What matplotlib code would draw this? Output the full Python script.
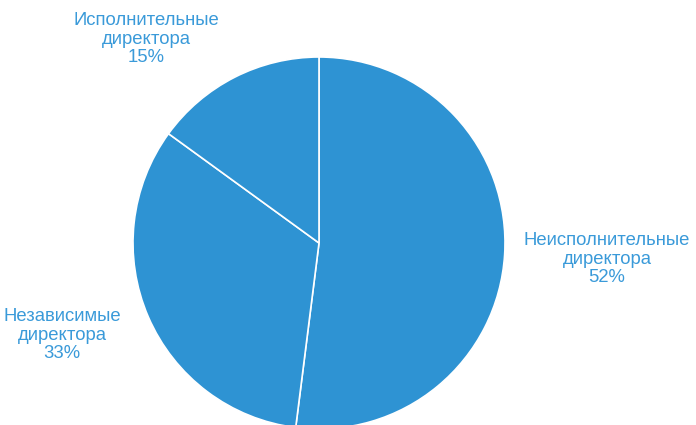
import matplotlib.pyplot as plt

plt.rcParams['font.family'] = ['Liberation Sans', 'DejaVu Sans']

categories = ['Неисполнительные\nдиректора', 'Независимые\nдиректора', 'Исполнительные\nдиректора']
shares = [52, 33, 15]

fill = '#2E93D3'
text_color = '#3A9AD9'

fig = plt.figure(figsize=(6.96, 4.25), dpi=100)
ax = fig.add_axes([0, 0, 1, 1])

# pie of radius 1, scaled so 1 unit is about 186 px
r_px = 186.0
cx, cy = 319.0, 243.0
W, H = 696.0, 425.0

wedges, _ = ax.pie(shares, startangle=90, counterclock=False, radius=1,
                   colors=[fill] * len(shares),
                   wedgeprops=dict(edgecolor='white', linewidth=1.2))

ax.set_xlim(-cx / r_px, (W - cx) / r_px)
ax.set_ylim(-(H - cy) / r_px, cy / r_px)
ax.set_aspect('equal')
ax.axis('off')

def px(x, y):
    return (x - cx) / r_px, (cy - y) / r_px

label_pos = [px(607, 259), px(62, 335), px(146, 39)]
for name, val, (lx, ly) in zip(categories, shares, label_pos):
    ax.text(lx, ly, f'{name}\n{val}%', ha='center', va='center',
            fontsize=13.3, color=text_color, linespacing=1.12)

fig.savefig('out.png', dpi=100)
